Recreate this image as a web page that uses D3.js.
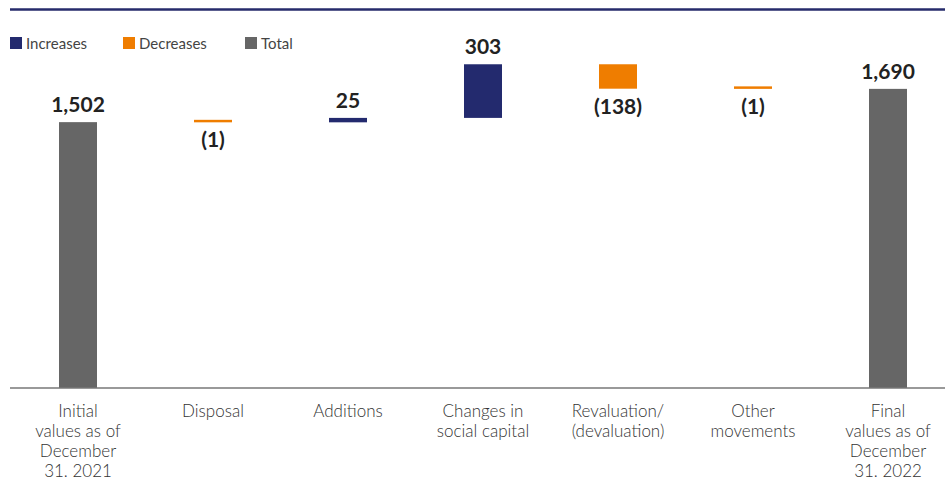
<!DOCTYPE html>
<html>
<head>
<meta charset="utf-8">
<script src="https://cdn.jsdelivr.net/npm/d3@7"></script>
<style>
  html, body { margin: 0; padding: 0; background: #ffffff; }
  svg { display: block; }
</style>
</head>
<body>
<svg id="chart" width="945" height="481"></svg>
<script>
// Bridge of equity investments, 2021 -> 2022
const categories = [
  ["Initial", "values as of", "December", "31. 2021"],
  ["Disposal"],
  ["Additions"],
  ["Changes in", "social capital"],
  ["Revaluation/", "(devaluation)"],
  ["Other", "movements"],
  ["Final", "values as of", "December", "31. 2022"]
];
const values = [1502, -1, 25, 303, -138, -1, 1690];
const kinds = ["total", "decrease", "increase", "increase", "decrease", "decrease", "total"];
const legendItems = ["Increases", "Decreases", "Total"];
const legendKinds = ["increase", "decrease", "total"];
const yMax = 2000;

const colors = { increase: "#232a6e", decrease: "#ef7d00", total: "#666666" };

const svg = d3.select("#chart");
const W = 945;
const baseY = 388;
const minH = 2.5;

const x = d3.scaleBand()
  .domain(d3.range(categories.length))
  .range([10.5, 955.5]);
const y = d3.scaleLinear().domain([0, yMax]).range([baseY, 34]);
const barW = 38;

// running totals for the floating bars
let running = 0;
const bars = values.map((v, i) => {
  let start, end;
  if (kinds[i] === "total") { start = 0; end = v; running = v; }
  else { start = running; end = running + v; running = end; }
  return { i, v, kind: kinds[i], lo: Math.min(start, end), hi: Math.max(start, end) };
});
const barH = d => Math.max(minH, y(d.lo) - y(d.hi));
const barBottom = d => y(d.lo);
const barTop = d => y(d.lo) - barH(d);

// top rule
svg.append("line")
  .attr("x1", 10).attr("x2", W).attr("y1", 9.5).attr("y2", 9.5)
  .attr("stroke", "#262b6b").attr("stroke-width", 2.5);

// legend
const legendX = [10, 123, 245];
legendItems.forEach((name, k) => {
  const g = svg.append("g").attr("transform", `translate(${legendX[k]},37)`);
  g.append("rect").attr("width", 12).attr("height", 12).attr("fill", colors[legendKinds[k]]);
  g.append("text").attr("x", 16).attr("y", 11.5)
    .attr("font-family", "Lato, 'Open Sans', sans-serif")
    .attr("font-size", 15).attr("font-weight", 400).attr("fill", "#444")
    .text(name);
});

// bars
const cx = i => x(i) + x.bandwidth() / 2;
svg.append("g").selectAll("rect").data(bars).join("rect")
  .attr("x", d => cx(d.i) - barW / 2)
  .attr("width", barW)
  .attr("y", barTop)
  .attr("height", barH)
  .attr("fill", d => colors[d.kind]);

// axis baseline
svg.append("line")
  .attr("x1", 10).attr("x2", W).attr("y1", baseY).attr("y2", baseY)
  .attr("stroke", "#777").attr("stroke-width", 1.5);

// value labels: above rising/total bars, below falling bars
const fmt = v => v < 0 ? `(${d3.format(",")(-v)})` : d3.format(",")(v);
svg.append("g").selectAll("text").data(bars).join("text")
  .attr("x", d => cx(d.i))
  .attr("y", d => d.kind === "decrease" ? barBottom(d) + 25 : barTop(d) - 10)
  .attr("text-anchor", "middle")
  .attr("font-family", "Lato, 'Open Sans', sans-serif")
  .attr("font-size", 21).attr("font-weight", 700).attr("fill", "#222")
  .text(d => fmt(d.v));

// category labels
const catG = svg.append("g");
categories.forEach((lines, i) => {
  const t = catG.append("text")
    .attr("x", cx(i)).attr("y", 417)
    .attr("text-anchor", "middle")
    .attr("font-family", "Lato, 'Open Sans', sans-serif")
    .attr("font-size", 17).attr("font-weight", 300).attr("fill", "#333");
  lines.forEach((ln, j) => {
    t.append("tspan").attr("x", cx(i)).attr("y", 417 + j * 20).text(ln);
  });
});
</script>
</body>
</html>
